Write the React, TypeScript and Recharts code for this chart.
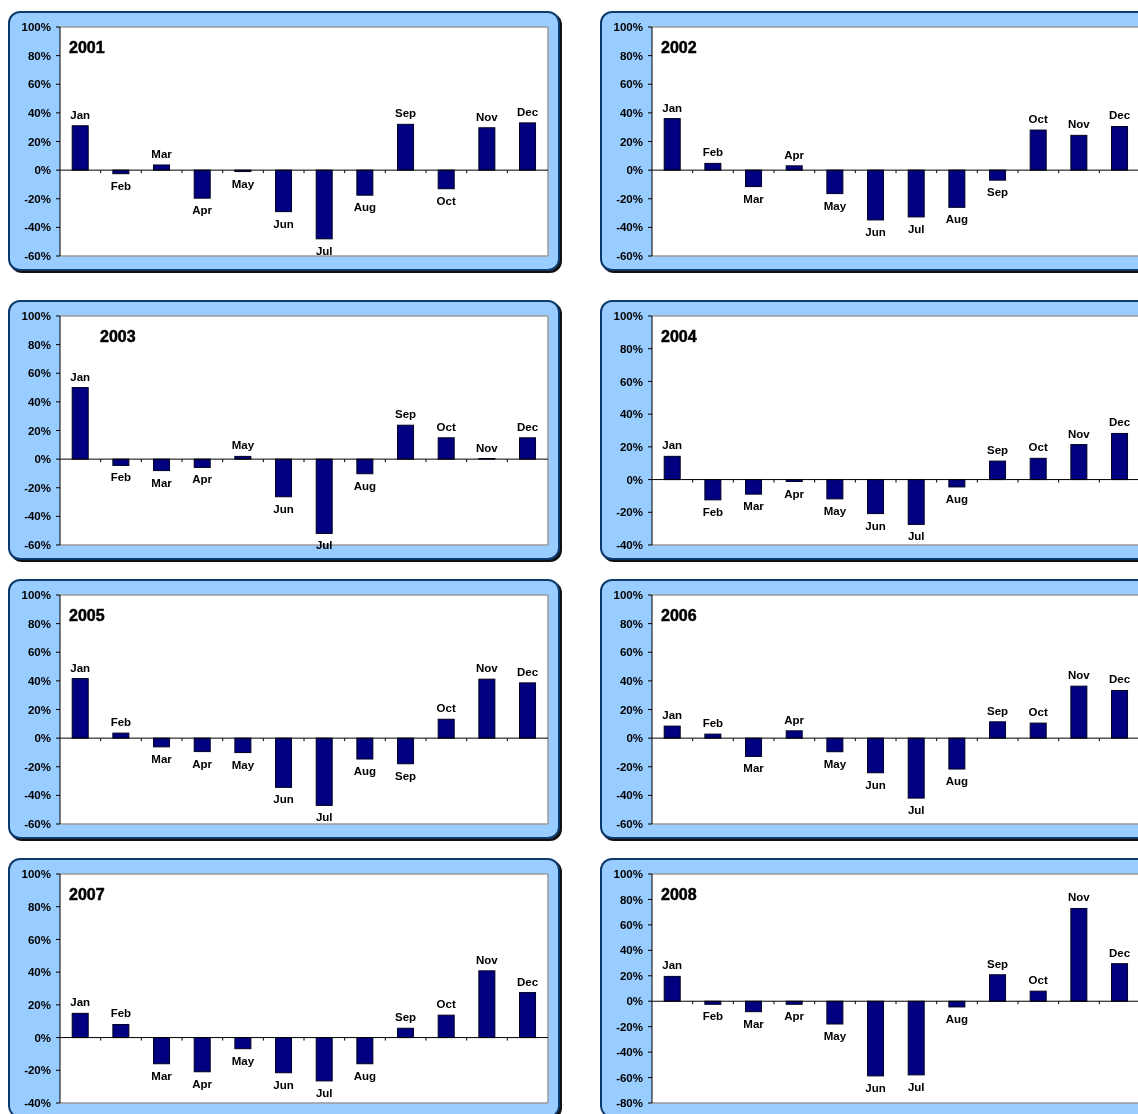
import { Bar, BarChart, CartesianGrid, ReferenceLine, XAxis, YAxis } from "recharts"

const MONTHS = ["Jan", "Feb", "Mar", "Apr", "May", "Jun", "Jul", "Aug", "Sep", "Oct", "Nov", "Dec"]

const YEARS = [2001, 2002, 2003, 2004, 2005, 2006, 2007, 2008]

const Y2001 = [31, -2.5, 3.6, -19.6, -1, -29, -48, -17.5, 32, -13, 29.6, 33]
const Y2002 = [36, 4.7, -11.5, 3, -16.4, -34.8, -32.7, -26, -7, 28, 24.3, 30.5]
const Y2003 = [50, -4.4, -8, -5.8, 1.9, -26.3, -51.9, -10.2, 23.7, 14.9, 0.4, 14.9]
const Y2004 = [14.2, -12.4, -8.9, -1.2, -11.8, -20.8, -27.4, -4.5, 11.3, 13, 21.4, 28.2]
const Y2005 = [41.6, 3.5, -6.1, -9.4, -10.1, -34.4, -47, -14.6, -17.9, 13.2, 41.2, 38.6]
const Y2006 = [8.4, 2.8, -12.8, 5.1, -9.5, -24.2, -41.9, -21.6, 11.4, 10.5, 36.3, 33.3]
const Y2007 = [14.8, 8, -16, -20.9, -6.8, -21.5, -26.5, -16, 5.7, 13.7, 40.8, 27.5]
const Y2008 = [19.5, -2.4, -8.2, -2.4, -17.9, -58.7, -57.9, -4.5, 20.8, 7.9, 72.9, 29.5]

const SERIES = [Y2001, Y2002, Y2003, Y2004, Y2005, Y2006, Y2007, Y2008]

const TICKS_60 = [-60, -40, -20, 0, 20, 40, 60, 80, 100]
const TICKS_40 = [-40, -20, 0, 20, 40, 60, 80, 100]
const TICKS_80 = [-80, -60, -40, -20, 0, 20, 40, 60, 80, 100]

const YEAR_TICKS = [TICKS_60, TICKS_60, TICKS_60, TICKS_40, TICKS_60, TICKS_60, TICKS_40, TICKS_80]

const FONT = "'Liberation Sans', Arial, sans-serif"
const PANEL_W = 552
const PANEL_H = 260
const COL_X = [8, 600]
const ROW_Y = [11, 300, 579, 858]

function BarWithLabel(props: any) {
  const { x, y, width, height, payload } = props
  const top = Math.min(y, y + height)
  const h = Math.abs(height)
  const positive = payload.value >= 0
  return (
    <g>
      <rect x={x} y={top} width={width} height={h} fill="#000080" stroke="#000022" strokeWidth={1} />
      <text
        x={x + width / 2}
        y={positive ? top - 11 : top + h + 12}
        textAnchor="middle"
        dominantBaseline="central"
        fontSize={11.5}
        fontWeight="bold"
        fontFamily={FONT}
        fill="#000"
      >
        {payload.month}
      </text>
    </g>
  )
}

function ZeroAxis(props: any) {
  const { x1, y1, x2 } = props
  const step = (x2 - x1) / MONTHS.length
  return (
    <g>
      <line x1={x1} y1={y1} x2={x2} y2={y1} stroke="#000" strokeWidth={1} />
      {MONTHS.slice(1).map((m, i) => (
        <line key={m} x1={x1 + step * (i + 1)} y1={y1} x2={x1 + step * (i + 1)} y2={y1 + 3} stroke="#000" strokeWidth={1} />
      ))}
    </g>
  )
}

function YearPanel({ index }: { index: number }) {
  const year = YEARS[index]
  const ticks = YEAR_TICKS[index]
  const data = MONTHS.map((month, i) => ({ month, value: SERIES[index][i] }))
  const left = COL_X[index % 2]
  const top = ROW_Y[Math.floor(index / 2)]
  const titleX = year === 2003 ? 92 : 61

  return (
    <div
      style={{
        position: "absolute",
        left,
        top,
        width: PANEL_W,
        height: PANEL_H,
        boxSizing: "border-box",
        background: "#99ccff",
        border: "2px solid #0d3a6c",
        borderRadius: 12,
        boxShadow: "2px 2px 0 #111",
      }}
    >
      <div style={{ position: "absolute", left: -2, top: -2 }}>
        <BarChart
          width={PANEL_W}
          height={PANEL_H}
          data={data}
          margin={{ top: 16, right: 12, bottom: 15, left: 0 }}
          barCategoryGap="30%"
        >
          <CartesianGrid
            fill="#fff"
            stroke="#9a9a9a"
            strokeWidth={1.5}
            horizontalCoordinatesGenerator={({ offset }: any) => [offset.top, offset.top + offset.height]}
            verticalCoordinatesGenerator={({ offset }: any) => [offset.left + offset.width]}
          />
          <XAxis dataKey="month" hide />
          <YAxis
            type="number"
            domain={[ticks[0], 100]}
            ticks={ticks}
            interval={0}
            width={52}
            tickFormatter={(v) => `${v}%`}
            axisLine={{ stroke: "#000" }}
            tickLine={{ stroke: "#000" }}
            tickSize={4}
            tickMargin={5}
            tick={{ fontSize: 11.5, fontWeight: "bold", fill: "#000", fontFamily: FONT }}
          />
          <Bar dataKey="value" shape={BarWithLabel} isAnimationActive={false} />
          <ReferenceLine y={0} shape={ZeroAxis} />
        </BarChart>
      </div>
      <div
        style={{
          position: "absolute",
          left: titleX - 2,
          top: 26,
          fontFamily: FONT,
          fontWeight: "bold",
          fontSize: 16,
          lineHeight: "18px",
          color: "#000",
          WebkitTextStroke: "0.5px #000",
        }}
      >
        {year}
      </div>
    </div>
  )
}

export default function App() {
  return (
    <div style={{ position: "fixed", left: 0, top: 0, width: "100vw", height: "100vh", overflow: "hidden", fontFamily: FONT }}>
      {YEARS.map((y, i) => (
        <YearPanel key={y} index={i} />
      ))}
    </div>
  )
}
